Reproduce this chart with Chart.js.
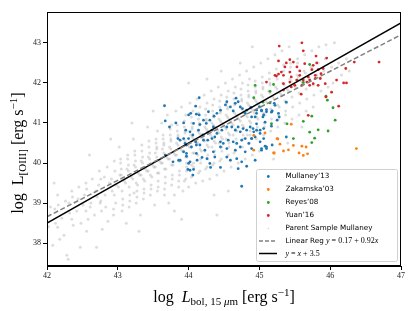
<!DOCTYPE html>
<html>
<head>
<meta charset="utf-8">
<script src="https://cdn.jsdelivr.net/npm/chart.js@4.4.1/dist/chart.umd.min.js"></script>
<style>
html, body { margin: 0; padding: 0; background: #fff; }
</style>
</head>
<body>
<canvas id="scatterChart" width="415" height="311"></canvas>
<script>
// axes
var xTicks = [42, 43, 44, 45, 46, 47];
var yTicks = [38, 39, 40, 41, 42, 43];

// reference lines (two end points each)
var lineX = [42, 47];
var fitY = [38.66, 43.20];
var unityY = [38.5, 43.5];

// Mullaney'13
var mullaney = [
  [43.66,41.43],[44.15,41.63],[43.67,41.05],[43.73,40.90],[43.82,41.00],[43.93,41.00],[44.00,41.20],[44.03,41.24],
  [44.07,40.99],[44.11,41.22],[44.15,41.20],[44.10,41.42],[44.28,41.28],[44.21,41.07],[44.16,40.96],[44.25,40.99],
  [44.30,41.07],[44.36,41.17],[44.35,40.90],[44.40,41.24],[44.45,41.32],[44.52,41.45],[44.54,41.53],[44.59,41.40],
  [44.63,41.30],[44.66,41.49],[44.70,41.53],[44.73,41.40],[44.76,41.36],[44.80,41.24],[44.82,41.32],[44.88,41.39],
  [44.89,41.15],[44.96,41.24],[45.00,41.40],[45.03,41.32],[45.06,41.20],[45.10,41.28],[45.18,41.30],[45.21,41.49],
  [45.25,41.07],[45.27,41.24],[43.96,40.82],[44.02,40.78],[44.06,40.70],[44.14,40.82],[44.20,40.70],[44.27,40.75],
  [44.33,40.82],[44.40,40.74],[44.47,40.82],[44.54,40.90],[44.61,40.90],[44.66,40.82],[44.70,40.90],[44.73,40.78],
  [44.77,40.86],[44.82,40.82],[44.87,40.90],[44.92,40.78],[44.96,40.82],[45.01,40.74],[45.06,40.86],[43.88,40.57],
  [43.95,40.49],[44.00,40.61],[44.04,40.40],[44.10,40.53],[44.16,40.45],[44.21,40.57],[44.27,40.57],[44.33,40.61],
  [44.37,40.65],[44.45,40.53],[44.49,40.49],[44.56,40.57],[44.63,40.53],[44.68,40.49],[44.75,40.57],[44.80,40.61],
  [44.85,40.49],[44.89,40.61],[44.94,40.65],[45.01,40.53],[45.06,40.61],[45.10,40.40],[45.18,40.45],[43.78,40.03],
  [43.86,40.07],[43.97,40.17],[44.00,39.99],[44.02,39.82],[44.06,39.70],[44.12,40.07],[44.19,40.14],[44.26,40.11],
  [44.30,39.99],[44.31,39.89],[44.37,40.15],[44.45,39.89],[44.54,40.15],[44.59,40.07],[44.68,40.11],[44.70,39.86],
  [44.75,40.03],[44.82,39.92],[44.75,39.42],[44.94,40.07],[45.03,40.32],[45.10,40.36],[43.67,40.20],[43.93,40.28],
  [44.11,40.24],[44.23,40.32],[44.35,40.28],[44.45,40.40],[44.54,40.36],[44.66,40.32],[44.73,40.40],[44.80,40.28],
  [44.89,40.36],[44.96,41.32],[45.03,41.30],[45.10,41.33],[45.17,41.27],[45.22,41.44],[45.38,41.52],[44.94,41.15],
  [45.05,41.15],[44.96,40.98],[45.08,41.02],[45.17,40.92],[45.28,41.15],[44.91,40.86],[45.01,40.82],[44.89,40.61],
  [45.38,40.65],[45.08,40.42],[45.03,40.36],[44.67,41.62],[43.99,39.84],[44.07,39.84],[43.88,40.07],[44.02,40.03],
  [43.97,40.45],[44.11,40.45],[43.97,40.24],[43.85,40.61],[43.93,40.61]
];

// Zakamska'03
var zakamska = [
  [45.45,40.97],[44.92,40.69],[45.08,40.75],[45.25,40.61],[45.29,40.47],[45.48,40.44],[45.60,40.42],[45.66,40.40],
  [45.41,40.33],[45.34,40.30],[45.20,40.25],[45.56,40.25],[45.62,40.19],[45.68,40.23],[46.37,40.36],[44.92,40.32],
  [45.21,40.25],[45.26,40.60]
];

// Reyes'08
var reyes = [
  [44.94,41.94],[45.15,41.79],[45.20,41.96],[44.92,41.63],[45.05,41.52],[45.15,41.50],[45.71,42.46],[45.62,42.01],
  [45.94,41.67],[45.96,41.57],[46.04,41.38],[45.74,41.17],[45.62,41.04],[45.39,40.98],[46.07,41.07],[45.83,40.83],
  [45.71,40.77],[45.97,40.80],[45.48,40.61],[45.78,40.62],[45.74,40.51],[45.17,40.98],[45.53,42.07]
];

// Yuan'16
var yuan = [
  [45.28,42.92],[45.60,43.00],[45.62,42.80],[45.80,42.67],[45.95,42.62],[45.27,42.55],[45.38,42.50],[45.43,42.58],
  [45.48,42.52],[45.36,42.40],[45.53,42.40],[45.64,42.48],[45.76,42.44],[45.81,42.50],[45.90,42.36],[45.83,42.33],
  [45.74,42.33],[45.57,42.30],[45.43,42.27],[45.31,42.27],[45.27,42.22],[45.22,42.19],[45.34,42.19],[45.45,42.15],
  [45.57,42.19],[45.69,42.15],[45.79,42.19],[45.87,42.23],[45.71,42.07],[45.79,42.11],[45.67,42.02],[45.76,41.98],
  [45.83,41.94],[45.93,41.98],[45.86,42.11],[45.62,42.07],[45.53,42.07],[45.43,42.02],[45.34,41.98],[45.50,41.94],
  [45.60,41.94],[45.71,41.94],[45.10,42.02],[45.34,41.82],[45.45,41.90],[45.59,41.72],[46.02,41.77],[46.09,42.07],
  [46.19,42.00],[46.23,42.00],[46.22,42.36],[46.34,42.52],[46.69,42.52],[45.94,41.65],[46.12,41.42],[45.69,41.19],
  [45.24,42.17]
];

// Parent Sample Mullaney
var parentSample = [
  [42.02,38.41],[42.05,38.90],[42.08,37.95],[42.04,38.70],
  [42.12,38.50],[42.15,39.20],[42.18,38.10],[42.11,38.85],
  [42.21,38.62],[42.26,39.05],[42.24,38.20],[42.28,37.70],
  [42.32,38.75],[42.35,39.30],[42.37,38.45],[42.31,39.00],
  [42.42,38.80],[42.45,39.40],[42.48,38.50],[42.44,39.10],[42.47,37.90],
  [42.51,38.95],[42.55,39.50],[42.58,38.60],[42.53,39.20],[42.56,38.30],
  [42.62,39.00],[42.64,39.60],[42.67,38.70],[42.69,39.30],[42.61,38.90],
  [42.71,39.15],[42.74,39.80],[42.77,38.80],[42.73,39.45],[42.78,38.35],[42.76,39.05],
  [42.82,39.20],[42.85,39.90],[42.83,38.90],[42.88,39.50],[42.86,38.55],[42.81,39.65],
  [42.92,39.30],[42.95,40.05],[42.97,39.00],[42.91,39.60],[42.94,38.70],[42.98,39.45],
  [43.01,39.40],[43.04,40.10],[43.07,39.10],[43.03,39.70],[43.06,38.80],[43.09,39.55],[43.02,40.40],
  [43.11,39.50],[43.14,40.20],[43.17,39.20],[43.13,39.85],[43.16,38.90],[43.19,39.65],[43.12,38.50],
  [43.21,39.60],[43.24,40.30],[43.27,39.30],[43.23,39.95],[43.26,39.00],[43.29,39.75],[43.22,40.60],[43.28,39.45],
  [43.31,39.70],[43.34,40.45],[43.37,39.35],[43.33,40.05],[43.36,39.10],[43.39,39.85],[43.32,38.70],[43.38,39.55],
  [43.41,39.80],[43.44,40.55],[43.47,39.45],[43.43,40.15],[43.46,39.20],[43.49,39.95],[43.42,40.90],[43.48,39.65],
  [43.51,39.90],[43.54,40.60],[43.57,39.55],[43.53,40.25],[43.56,39.30],[43.59,40.05],[43.52,38.95],[43.58,39.75],[43.55,40.40],
  [43.61,40.00],[43.64,40.70],[43.67,39.65],[43.63,40.35],[43.66,39.35],[43.69,40.15],[43.62,41.00],[43.68,39.85],[43.65,40.50],
  [43.71,40.10],[43.74,40.85],[43.77,39.70],[43.73,40.40],[43.76,39.45],[43.79,40.25],[43.72,39.00],[43.78,39.95],[43.75,40.60],[43.70,41.20],
  [43.81,40.20],[43.84,40.95],[43.87,39.80],[43.83,40.50],[43.86,39.55],[43.89,40.35],[43.82,41.30],[43.88,40.05],[43.85,40.70],[43.80,39.20],
  [43.91,40.30],[43.94,41.05],[43.97,39.90],[43.93,40.60],[43.96,39.60],[43.99,40.45],[43.92,39.30],[43.98,40.15],[43.95,40.80],[43.90,41.40],[43.97,40.00],
  [44.01,40.40],[44.04,41.15],[44.07,40.00],[44.03,40.70],[44.06,39.70],[44.09,40.55],[44.02,41.50],[44.08,40.25],[44.05,40.90],[44.00,39.40],[44.07,40.60],[44.04,39.95],
  [44.11,40.50],[44.14,41.25],[44.17,40.10],[44.13,40.80],[44.16,39.80],[44.19,40.65],[44.12,41.60],[44.18,40.30],[44.15,41.00],[44.10,39.50],[44.17,40.70],[44.13,40.20],
  [44.21,40.60],[44.24,41.35],[44.27,40.20],[44.23,40.90],[44.26,39.90],[44.29,40.75],[44.22,41.70],[44.28,40.40],[44.25,41.10],[44.20,39.55],[44.27,40.80],[44.23,40.30],[44.26,42.10],
  [44.31,40.70],[44.34,41.45],[44.37,40.30],[44.33,41.00],[44.36,40.00],[44.39,40.85],[44.32,41.80],[44.38,40.50],[44.35,41.20],[44.30,39.60],[44.37,40.90],[44.33,40.40],[44.36,39.20],
  [44.41,40.80],[44.44,41.55],[44.47,40.40],[44.43,41.10],[44.46,40.10],[44.49,40.95],[44.42,41.90],[44.48,40.60],[44.45,41.30],[44.40,39.70],[44.47,41.00],[44.43,40.50],[44.46,42.30],
  [44.51,40.90],[44.54,41.65],[44.57,40.50],[44.53,41.20],[44.56,40.20],[44.59,41.05],[44.52,42.00],[44.58,40.70],[44.55,41.40],[44.50,39.80],[44.57,41.10],[44.53,40.60],[44.56,39.30],
  [44.61,41.00],[44.64,41.75],[44.67,40.60],[44.63,41.30],[44.66,40.30],[44.69,41.15],[44.62,42.10],[44.68,40.80],[44.65,41.50],[44.60,39.90],[44.67,41.20],[44.63,40.70],
  [44.71,41.10],[44.74,41.85],[44.77,40.70],[44.73,41.40],[44.76,40.40],[44.79,41.25],[44.72,42.20],[44.78,40.90],[44.75,41.60],[44.70,40.00],[44.77,41.30],[44.73,42.50],
  [44.81,41.20],[44.84,41.95],[44.87,40.80],[44.83,41.50],[44.86,40.50],[44.89,41.35],[44.82,42.30],[44.88,41.00],[44.85,41.70],[44.80,40.10],[44.87,41.40],[44.83,40.70],
  [44.91,41.30],[44.94,42.05],[44.97,40.90],[44.93,41.60],[44.96,40.60],[44.99,41.45],[44.92,42.40],[44.98,41.10],[44.95,41.80],[44.90,40.20],[44.97,41.50],
  [45.01,41.40],[45.04,42.15],[45.07,41.00],[45.03,41.70],[45.06,40.70],[45.09,41.55],[45.02,42.50],[45.08,41.20],[45.05,41.90],[45.00,40.30],
  [45.11,41.50],[45.14,42.25],[45.17,41.10],[45.13,41.80],[45.16,40.80],[45.19,41.65],[45.12,42.60],[45.18,41.30],[45.15,42.00],
  [45.21,41.60],[45.24,42.35],[45.27,41.20],[45.23,41.90],[45.26,40.90],[45.29,41.75],[45.22,42.70],[45.28,41.40],[45.25,42.10],
  [45.31,41.70],[45.34,42.45],[45.37,41.30],[45.33,42.00],[45.36,41.00],[45.39,41.85],[45.32,42.80],[45.38,41.50],
  [45.41,41.80],[45.44,42.50],[45.47,41.40],[45.43,42.10],[45.46,41.10],[45.49,41.95],[45.42,42.90],
  [45.51,41.90],[45.54,42.60],[45.57,41.50],[45.53,42.20],[45.56,41.20],[45.59,42.05],
  [45.61,42.00],[45.64,42.70],[45.67,41.60],[45.63,42.30],[45.66,41.30],[45.69,42.15],
  [45.71,42.10],[45.74,42.80],[45.77,41.70],[45.73,42.40],[45.76,41.40],
  [45.81,42.20],[45.84,42.90],[45.87,41.80],[45.83,42.50],
  [45.91,42.30],[45.94,42.95],[45.97,41.90],[45.93,42.60],
  [46.02,42.40],[46.06,43.00],[46.04,42.00],
  [46.12,42.50],[46.16,42.20],[46.23,42.60],[46.27,42.30],
  // second pass, filling the gaps between the strips
  [42.15,38.40],[42.16,38.95],[42.35,38.60],[42.36,39.15],[42.55,38.80],[42.56,39.35],
  [42.75,39.00],[42.76,39.60],[42.95,39.20],[42.96,39.80],[42.94,38.85],
  [43.05,39.70],[43.06,39.30],[43.04,40.00],[43.07,38.95],[43.05,39.85],
  [43.15,39.80],[43.16,39.40],[43.14,40.10],[43.17,39.05],[43.15,39.95],
  [43.25,39.90],[43.26,39.50],[43.24,40.20],[43.27,39.15],[43.25,40.05],[43.23,39.25],
  [43.35,40.00],[43.36,39.60],[43.34,40.30],[43.37,39.25],[43.35,40.15],[43.33,39.70],
  [43.45,40.10],[43.46,39.70],[43.44,40.40],[43.47,39.35],[43.45,40.25],[43.43,39.80],
  [43.55,40.15],[43.56,39.75],[43.54,40.50],[43.57,39.40],[43.55,40.35],[43.53,39.90],[43.56,40.80],
  [43.65,40.25],[43.66,39.85],[43.64,40.60],[43.67,39.50],[43.65,40.45],[43.63,40.00],[43.66,39.20],
  [43.75,40.35],[43.76,39.95],[43.74,40.70],[43.77,39.60],[43.75,40.55],[43.73,40.10],[43.76,40.95],
  [43.85,40.45],[43.86,40.05],[43.84,40.80],[43.87,39.70],[43.85,40.65],[43.83,40.20],[43.86,39.40],
  [43.95,40.55],[43.96,40.15],[43.94,40.90],[43.97,39.80],[43.95,40.75],[43.93,40.30],[43.96,41.20],[43.94,39.55],
  [44.05,40.65],[44.06,40.25],[44.04,41.00],[44.07,39.90],[44.05,40.85],[44.03,40.40],[44.06,41.30],[44.04,39.65],
  [44.15,40.75],[44.16,40.35],[44.14,41.10],[44.17,40.00],[44.15,40.95],[44.13,40.50],[44.16,41.40],[44.14,39.75],
  [44.25,40.85],[44.26,40.45],[44.24,41.20],[44.27,40.10],[44.25,41.05],[44.23,40.55],[44.26,41.50],[44.24,39.85],
  [44.35,40.95],[44.36,40.55],[44.34,41.30],[44.37,40.20],[44.35,41.15],[44.33,40.65],[44.36,41.60],[44.34,39.95],
  [44.45,41.05],[44.46,40.65],[44.44,41.40],[44.47,40.30],[44.45,41.25],[44.43,40.75],[44.46,41.70],[44.44,40.05],
  [44.55,41.15],[44.56,40.75],[44.54,41.50],[44.57,40.40],[44.55,41.35],[44.53,40.85],[44.56,41.80],[44.54,40.15],
  [44.65,41.25],[44.66,40.85],[44.64,41.60],[44.67,40.50],[44.65,41.45],[44.63,40.95],[44.66,41.90],[44.64,40.25],
  [44.75,41.35],[44.76,40.95],[44.74,41.70],[44.77,40.60],[44.75,41.55],[44.73,41.05],[44.76,42.00],
  [44.85,41.45],[44.86,41.05],[44.84,41.80],[44.87,40.70],[44.85,41.65],[44.83,41.15],[44.86,42.10],
  [44.95,41.55],[44.96,41.15],[44.94,41.90],[44.97,40.80],[44.95,41.75],[44.93,41.25],
  [45.05,41.65],[45.06,41.25],[45.04,42.00],[45.07,40.90],[45.05,41.85],
  [45.15,41.75],[45.16,41.35],[45.14,42.10],[45.17,41.00],[45.15,41.95],
  [45.25,41.85],[45.26,41.45],[45.24,42.20],[45.27,41.10],
  [45.35,41.95],[45.36,41.55],[45.34,42.30],[45.37,41.20],
  [45.45,42.05],[45.46,41.65],[45.44,42.40],
  [45.55,42.15],[45.56,41.75],[45.54,42.50],
  [45.65,42.25],[45.66,41.85],[45.75,42.35],[45.76,41.95],
  // scattered outliers
  [42.60,40.20],[42.90,40.60],[43.30,38.30],[43.80,38.80],[44.40,38.70],[45.20,40.10],[45.60,40.90],
  [43.20,41.00],[42.30,37.60],[44.90,42.90],[42.70,37.90],[43.50,41.30],[42.10,39.50],[44.00,42.00],
  [43.90,38.60],[45.40,40.50]
];

var toPts = function (arr) {
    return arr.map(function (p) { return { x: p[0], y: p[1] }; });
};
var linePts = function (ys) {
    return lineX.map(function (x, i) { return { x: x, y: ys[i] }; });
};

// text with sub/superscripts, centred on x
function drawRich(ctx, segs, x, y) {
    var total = 0;
    segs.forEach(function (s) { ctx.font = s[1]; total += ctx.measureText(s[0]).width; });
    var cx = x - total / 2;
    segs.forEach(function (s) {
        ctx.font = s[1];
        ctx.fillText(s[0], cx, y + (s[2] || 0));
        cx += ctx.measureText(s[0]).width;
    });
}
function drawRow(ctx, segs, x, y) {
    var cx = x;
    segs.forEach(function (s) {
        ctx.font = s[1];
        ctx.fillText(s[0], cx, y + (s[2] || 0));
        cx += ctx.measureText(s[0]).width;
    });
}

var serif = "'Liberation Serif', serif";
var sans = "'DejaVu Sans', sans-serif";

var decorPlugin = {
    id: 'decor',
    afterDraw: function (chart) {
        var ctx = chart.ctx;
        var a = chart.chartArea;
        ctx.save();
        // frame
        ctx.strokeStyle = '#000';
        ctx.lineWidth = 1;
        ctx.strokeRect(Math.round(a.left) + 0.5, Math.round(a.top) + 0.5,
            Math.round(a.right - a.left) - 1, Math.round(a.bottom - a.top) - 1);

        // axis titles
        ctx.fillStyle = '#000';
        ctx.textBaseline = 'alphabetic';
        drawRich(ctx, [
            ['log  ', '16px ' + serif],
            ['L', 'italic 16px ' + serif],
            ['bol, 15 ', '11px ' + serif, 3],
            ['\u03bc', 'italic 11px ' + serif, 3],
            ['m', '11px ' + serif, 3],
            [' [erg s', '16px ' + serif],
            ['\u22121', '11px ' + serif, -6],
            [']', '16px ' + serif]
        ], (a.left + a.right) / 2, 302);

        ctx.translate(23, (a.top + a.bottom) / 2 + 14);
        ctx.rotate(-Math.PI / 2);
        drawRich(ctx, [
            ['log  L', '16px ' + serif],
            ['[OIII]', '11px ' + serif, 3],
            [' [erg s', '16px ' + serif],
            ['\u22121', '11px ' + serif, -6],
            [']', '16px ' + serif]
        ], 0, 0);
        ctx.restore();

        // legend box
        ctx.save();
        var bx = 256.5, by = 169.5, bw = 141, bh = 92;
        ctx.fillStyle = 'rgba(255,255,255,0.85)';
        ctx.strokeStyle = '#d0d0d0';
        ctx.lineWidth = 1;
        ctx.beginPath();
        ctx.roundRect(bx, by, bw, bh, 2);
        ctx.fill();
        ctx.stroke();

        var rowY = [176.5, 189.5, 202.5, 215.5, 228.5, 241, 253.5];
        var mx = 268.3, tx = 285.5;
        var ds = chart.data.datasets;
        ctx.textBaseline = 'middle';
        for (var i = 0; i < 5; i++) {
            ctx.fillStyle = ds[i].legendColor;
            ctx.beginPath();
            ctx.arc(mx, rowY[i], i === 4 ? 0.7 : 1.4, 0, Math.PI * 2);
            ctx.fill();
            ctx.fillStyle = '#000';
            ctx.font = '7.2px ' + sans;
            ctx.fillText(ds[i].label, tx, rowY[i]);
        }
        // line entries
        ctx.lineWidth = 1.5;
        ctx.strokeStyle = '#808080';
        ctx.setLineDash([4, 2]);
        ctx.beginPath(); ctx.moveTo(259, rowY[5]); ctx.lineTo(277, rowY[5]); ctx.stroke();
        ctx.setLineDash([]);
        ctx.strokeStyle = '#000';
        ctx.beginPath(); ctx.moveTo(259, rowY[6]); ctx.lineTo(277, rowY[6]); ctx.stroke();
        ctx.fillStyle = '#000';
        drawRow(ctx, [
            ['Linear Reg ', '7.2px ' + sans],
            ['y', 'italic 8px ' + serif],
            [' = 0.17 + 0.92', '8px ' + serif],
            ['x', 'italic 8px ' + serif]
        ], tx, rowY[5]);
        drawRow(ctx, [
            ['y', 'italic 8px ' + serif],
            [' = ', '8px ' + serif],
            ['x', 'italic 8px ' + serif],
            [' + 3.5', '8px ' + serif]
        ], tx, rowY[6]);
        ctx.restore();
    }
};

var ctxS = document.getElementById("scatterChart").getContext('2d');
var myScatterChart = new Chart(ctxS, {
    type: 'scatter',
    data: {
        datasets: [{
                label: "Mullaney\u201913",
                data: toPts(mullaney),
                backgroundColor: '#1f77b4',
                legendColor: '#1f77b4',
                pointRadius: 1.4,
                borderWidth: 0,
                order: 4
            },
            {
                label: "Zakamska\u201903",
                data: toPts(zakamska),
                backgroundColor: '#ff7f0e',
                legendColor: '#ff7f0e',
                pointRadius: 1.4,
                borderWidth: 0,
                order: 3
            },
            {
                label: "Reyes\u201908",
                data: toPts(reyes),
                backgroundColor: '#2ca02c',
                legendColor: '#2ca02c',
                pointRadius: 1.4,
                borderWidth: 0,
                order: 2
            },
            {
                label: "Yuan\u201916",
                data: toPts(yuan),
                backgroundColor: '#d62728',
                legendColor: '#d62728',
                pointRadius: 1.4,
                borderWidth: 0,
                order: 1
            },
            {
                label: "Parent Sample Mullaney",
                data: toPts(parentSample),
                backgroundColor: 'rgba(150,150,150,0.32)',
                legendColor: 'rgba(160,160,160,0.5)',
                pointRadius: 1.5,
                borderWidth: 0,
                order: 5
            },
            {
                label: "Linear Reg",
                type: 'line',
                data: linePts(fitY),
                borderColor: '#808080',
                borderDash: [5, 2.5],
                borderWidth: 1.5,
                pointRadius: 0,
                fill: false,
                order: 0
            },
            {
                label: "y = x + 3.5",
                type: 'line',
                data: linePts(unityY),
                borderColor: '#000',
                borderWidth: 1.5,
                pointRadius: 0,
                fill: false,
                order: 0
            }
        ]
    },
    options: {
        responsive: false,
        animation: false,
        devicePixelRatio: 1,
        layout: { padding: { top: 12, right: 14, left: 0, bottom: 0 } },
        plugins: { legend: { display: false }, tooltip: { enabled: false } },
        scales: {
            x: {
                type: 'linear',
                min: 42,
                max: 47,
                afterBuildTicks: function (s) { s.ticks = xTicks.map(function (v) { return { value: v }; }); },
                afterFit: function (s) { s.height = 45; },
                ticks: { font: { family: 'Liberation Serif', size: 8 }, color: '#222', padding: 1, maxRotation: 0 },
                grid: { drawOnChartArea: false, tickLength: 4, color: '#000' },
                border: { color: '#000', width: 1 }
            },
            y: {
                type: 'linear',
                min: 37.43,
                max: 43.77,
                afterBuildTicks: function (s) { s.ticks = yTicks.map(function (v) { return { value: v }; }); },
                afterFit: function (s) { s.width = 47; },
                ticks: { font: { family: 'Liberation Serif', size: 8 }, color: '#222', padding: 2 },
                grid: { drawOnChartArea: false, tickLength: 4, color: '#000' },
                border: { color: '#000', width: 1 }
            }
        }
    },
    plugins: [decorPlugin]
});
</script>
</body>
</html>
